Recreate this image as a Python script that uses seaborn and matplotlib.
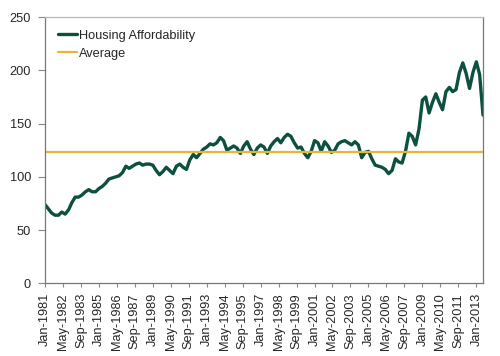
import pandas as pd
import numpy as np
import matplotlib as mpl
import matplotlib.pyplot as plt
import matplotlib.dates as mdates
import seaborn as sns
mpl.use('Agg')

# quarterly readings, Jan-1981 .. Jul-2013
start = '1981-01-01'
affordability = [74, 70, 66, 64, 64, 67, 65, 69, 76, 81,
                 81, 83, 86, 88, 86, 86, 89, 91, 94, 98,
                 99, 100, 101, 104, 110, 108, 110, 112, 113, 111,
                 112, 112, 111, 106, 102, 105, 109, 106, 103, 110,
                 112, 109, 107, 116, 121, 118, 122, 126, 128, 131,
                 130, 132, 137, 134, 125, 127, 129, 127, 122, 129,
                 133, 126, 121, 127, 130, 128, 122, 129, 133, 136,
                 132, 137, 140, 138, 132, 127, 128, 122, 118, 124,
                 134, 132, 124, 133, 129, 123, 125, 131, 133, 134,
                 132, 130, 133, 130, 118, 123, 124, 117, 111, 110,
                 109, 107, 103, 106, 117, 114, 113, 124, 141, 138,
                 130, 145, 172, 175, 160, 170, 178, 170, 163, 180,
                 184, 180, 182, 198, 207, 197, 183, 198, 208, 196,
                 158]
average_value = 123.5

dates = pd.date_range(start, periods=len(affordability), freq='3MS')
df = pd.DataFrame({'date': dates, 'value': affordability})
df['avg'] = average_value

tick_dates = pd.date_range('1981-01-01', '2013-01-01', freq='16MS')

sns.set_style('white')
mpl.rcParams['font.family'] = ['Liberation Sans', 'DejaVu Sans']

fig, ax = plt.subplots(figsize=(5, 3.56), dpi=100)
fig.subplots_adjust(left=0.09, right=0.966, top=0.952, bottom=0.204)

sns.lineplot(data=df, x='date', y='value', color='#0c5040', linewidth=2.4,
             label='Housing Affordability', ax=ax)
sns.lineplot(data=df, x='date', y='avg', color='#e8b53a', linewidth=1.6,
             label='Average', ax=ax)

ax.set_ylim(0, 250)
ax.set_yticks(range(0, 251, 50))
ax.set_xlim(dates[0], dates[-1])
ax.set_xticks(tick_dates)
ax.xaxis.set_major_formatter(mdates.DateFormatter('%b-%Y'))
plt.setp(ax.get_xticklabels(), rotation=90, fontsize=9.2)
plt.setp(ax.get_yticklabels(), fontsize=9.2)
ax.set_xlabel('')
ax.set_ylabel('')
ax.tick_params(axis='y', direction='out', length=5, width=0.8,
               color='#888888', pad=5, left=True)
ax.tick_params(axis='x', direction='out', length=3, width=0.8,
               color='#888888', pad=4, bottom=True)

for side in ['left', 'bottom', 'right']:
    ax.spines[side].set_color('#777777')
    ax.spines[side].set_linewidth(0.9)
ax.spines['top'].set_color('#bbbbbb')
ax.spines['top'].set_linewidth(0.9)

leg = ax.legend(loc='upper left', frameon=False, fontsize=9.2,
                handlelength=1.5, handletextpad=0.15, labelspacing=0.45,
                borderaxespad=0.6)

plt.savefig('out.png', dpi=100)
